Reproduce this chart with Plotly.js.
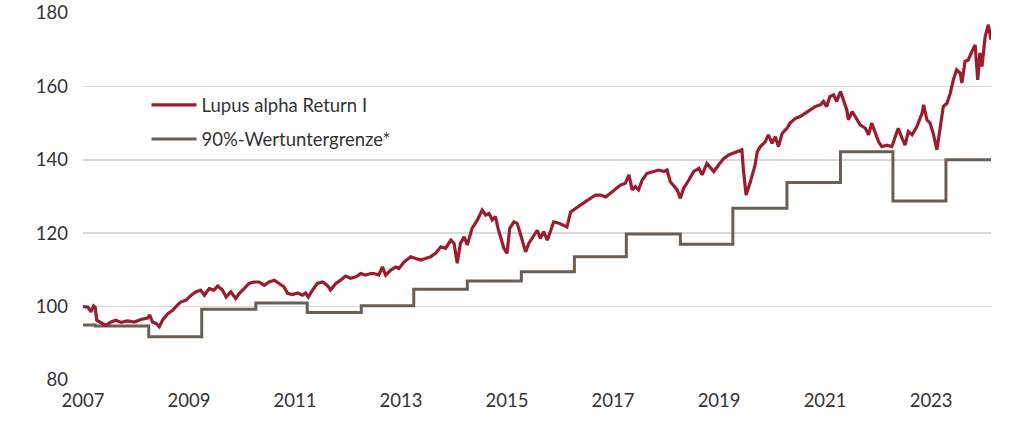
<!DOCTYPE html>
<html>
<head>
<meta charset="utf-8">
<script src="https://cdn.plot.ly/plotly-3.0.1.min.js"></script>
<style>html,body{margin:0;padding:0;background:#fff;}#chart{width:1015px;height:429px;}</style>
</head>
<body>
<div id="chart"></div>
<script>
// Fund series (decimal year, index value)
const fundYears = [2007.00,2007.09,2007.15,2007.20,2007.23,2007.26,2007.34,2007.43,2007.53,2007.62,2007.72,2007.84,2007.97,2008.09,2008.22,2008.26,2008.31,2008.38,2008.44,2008.50,2008.60,2008.69,2008.78,2008.85,2008.94,2009.04,2009.13,2009.22,2009.29,2009.38,2009.47,2009.54,2009.63,2009.70,2009.76,2009.79,2009.88,2009.95,2010.04,2010.13,2010.23,2010.32,2010.42,2010.51,2010.61,2010.70,2010.79,2010.86,2010.95,2011.05,2011.14,2011.20,2011.25,2011.33,2011.42,2011.52,2011.61,2011.67,2011.77,2011.86,2011.95,2012.05,2012.15,2012.24,2012.33,2012.43,2012.49,2012.58,2012.65,2012.71,2012.80,2012.90,2012.96,2013.06,2013.18,2013.28,2013.37,2013.46,2013.56,2013.65,2013.75,2013.84,2013.94,2014.00,2014.06,2014.12,2014.19,2014.25,2014.34,2014.44,2014.53,2014.60,2014.66,2014.72,2014.78,2014.83,2014.88,2014.94,2015.00,2015.05,2015.13,2015.19,2015.25,2015.35,2015.41,2015.51,2015.57,2015.63,2015.69,2015.76,2015.82,2015.88,2015.98,2016.07,2016.13,2016.20,2016.29,2016.39,2016.48,2016.57,2016.67,2016.76,2016.86,2016.95,2017.05,2017.14,2017.23,2017.30,2017.36,2017.42,2017.48,2017.55,2017.64,2017.77,2017.86,2017.96,2018.02,2018.08,2018.14,2018.21,2018.27,2018.33,2018.43,2018.52,2018.62,2018.68,2018.77,2018.84,2018.90,2018.99,2019.09,2019.18,2019.27,2019.37,2019.43,2019.46,2019.51,2019.59,2019.68,2019.72,2019.78,2019.87,2019.93,2020.00,2020.06,2020.12,2020.19,2020.28,2020.34,2020.44,2020.53,2020.63,2020.72,2020.81,2020.91,2020.97,2021.03,2021.09,2021.16,2021.22,2021.29,2021.35,2021.41,2021.44,2021.51,2021.57,2021.66,2021.76,2021.82,2021.88,2021.95,2022.01,2022.07,2022.17,2022.26,2022.32,2022.38,2022.45,2022.51,2022.57,2022.64,2022.73,2022.83,2022.86,2022.92,2022.98,2023.04,2023.11,2023.17,2023.23,2023.30,2023.36,2023.42,2023.48,2023.55,2023.58,2023.64,2023.70,2023.77,2023.83,2023.88,2023.92,2023.96,2024.02,2024.08,2024.13];
const fundValues = [100.0,99.9,98.6,100.2,99.8,96.3,95.6,94.9,95.8,96.3,95.7,96.1,95.8,96.5,96.9,97.7,95.8,95.4,94.5,96.3,98.1,99.0,100.4,101.3,101.7,103.1,104.0,104.5,103.1,104.9,104.5,105.6,104.5,102.6,103.6,104.0,102.2,103.6,104.9,106.3,106.7,106.7,105.8,106.7,107.2,106.3,105.4,103.6,103.3,103.7,103.1,103.7,102.6,104.5,106.3,106.7,105.8,104.5,106.3,107.2,108.3,107.7,108.1,109.0,108.6,109.0,109.0,108.6,110.8,108.6,109.9,110.8,110.4,112.2,113.6,113.1,112.7,113.1,113.6,114.5,116.3,115.9,118.1,117.2,111.8,117.2,119.0,116.8,121.3,123.6,126.3,124.9,125.4,123.6,124.5,121.3,118.6,115.9,114.5,121.3,123.1,122.7,119.9,114.9,117.2,119.5,120.8,118.6,120.4,118.1,120.8,123.1,122.7,122.2,121.7,125.8,126.8,127.7,128.6,129.5,130.4,130.4,129.9,130.9,132.2,133.1,133.6,135.9,131.8,132.7,131.8,134.5,136.3,136.8,137.2,136.8,137.2,134.0,133.1,131.8,129.5,132.2,134.5,136.8,137.7,135.9,139.0,137.7,136.8,138.6,140.4,141.3,141.8,142.2,142.7,137.2,130.4,134.0,138.6,142.2,143.6,144.9,146.8,144.5,146.3,143.6,147.2,148.6,150.0,151.3,151.8,152.7,153.6,154.5,155.0,155.9,154.5,157.2,157.7,155.9,158.6,156.3,153.6,150.9,153.1,151.8,149.5,148.6,146.8,150.0,147.2,144.9,143.6,144.0,143.6,145.9,148.6,145.9,144.0,147.7,146.8,149.0,152.7,155.0,150.9,150.0,147.2,142.7,149.0,154.5,155.4,158.1,161.8,164.5,163.6,160.9,166.8,167.2,169.5,171.3,161.8,169.1,165.4,173.6,176.8,172.7];

// 90% value floor (step start years and levels)
const floorYears = [2007.00,2007.23,2008.24,2009.24,2010.26,2011.23,2012.25,2013.24,2014.25,2015.27,2016.27,2017.25,2018.27,2019.26,2020.28,2021.29,2022.28,2023.28,2024.13];
const floorValues = [95.0,94.7,91.8,99.3,101.0,98.4,100.2,104.7,107.0,109.5,113.6,119.8,117.0,126.8,133.8,142.2,128.8,140.0,140.0];

const seriesNames = ["Lupus alpha Return I", "90%-Wertuntergrenze*"];
const xTickVals = [2007,2009,2011,2013,2015,2017,2019,2021,2023];
const xTickText = ["2007","2009","2011","2013","2015","2017","2019","2021","2023"];
const yTickVals = [80,100,120,140,160,180];

const FONT = "Lato, 'Open Sans', sans-serif";
const FS = 18.5;

const traces = [
  {
    x: floorYears, y: floorValues, name: seriesNames[1], type: "scatter", mode: "lines",
    line: {color: "#6b5e55", width: 3, shape: "hv"}, legendrank: 2, legendgroup: "b",
    hoverinfo: "skip"
  },
  {
    x: fundYears, y: fundValues, name: seriesNames[0], type: "scatter", mode: "lines",
    line: {color: "#9b1c2e", width: 3.2}, legendrank: 1, legendgroup: "a",
    hoverinfo: "skip"
  }
];

const layout = {
  width: 1015, height: 429,
  margin: {l: 83, r: 24, t: 13, b: 49},
  paper_bgcolor: "#fff", plot_bgcolor: "#fff",
  font: {family: FONT, size: FS, color: "#333"},
  showlegend: true,
  legend: {
    x: 0.07, y: 0.80, xanchor: "left", yanchor: "top",
    bgcolor: "rgba(0,0,0,0)", traceorder: "grouped", tracegroupgap: 7,
    font: {family: FONT, size: FS, color: "#333"}, itemwidth: 45
  },
  xaxis: {
    type: "linear", range: [2007, 2024.13],
    tickvals: xTickVals, ticktext: xTickText,
    showgrid: false, zeroline: false, showline: false, ticks: "",
    ticklabelstandoff: 7,
    tickfont: {family: FONT, size: FS, color: "#333"}
  },
  yaxis: {
    range: [80, 180], tickvals: yTickVals,
    showgrid: true, gridcolor: "#d9d9d9", gridwidth: 1.5,
    zeroline: false, showline: false, ticks: "",
    ticklabelstandoff: 14,
    tickfont: {family: FONT, size: FS, color: "#333"}
  }
};

Plotly.newPlot("chart", traces, layout, {displayModeBar: false, staticPlot: true});
</script>
</body>
</html>
